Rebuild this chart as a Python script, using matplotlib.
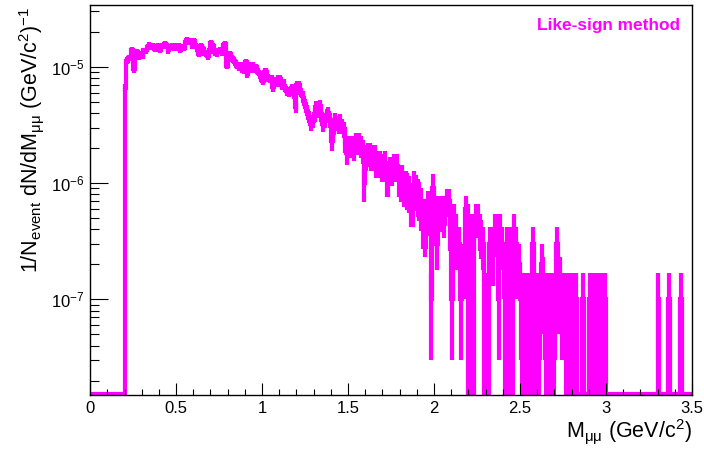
import matplotlib
matplotlib.use("Agg")
import matplotlib.pyplot as plt
import numpy as np
from matplotlib.ticker import MultipleLocator, LogLocator, FuncFormatter, NullFormatter

plt.rcParams["font.family"] = ["Liberation Sans", "DejaVu Sans"]
plt.rcParams["mathtext.fontset"] = "custom"
plt.rcParams["mathtext.rm"] = "Liberation Sans"
plt.rcParams["mathtext.it"] = "Liberation Sans:italic"
plt.rcParams["mathtext.bf"] = "Liberation Sans:bold"

MAGENTA = "#ff00ff"
BIN_W = 0.01
M_MAX = 3.5
FIRST = 0.20  # low edge of the first filled bin

# like-sign 1/N dN/dM, units of 1e-7 (GeV/c^2)^-1, bins 0.20 ... 2.99
dndm = [
    66, 113, 119, 121, 140, 95, 125, 134, 121, 129,
    125, 138, 138, 147, 154, 147, 152, 142, 147, 150,
    140, 150, 152, 157, 152, 138, 147, 152, 145, 150,
    145, 152, 140, 147, 145, 162, 171, 162, 168, 152,
    168, 152, 138, 129, 150, 142, 133, 129, 123, 138,
    160, 152, 133, 129, 138, 140, 133, 152, 157, 102,
    125, 129, 118, 113, 109, 102, 99, 102, 96, 93,
    109, 86, 102, 96, 102, 96, 99, 91, 86, 81,
    76, 90, 90, 81, 78, 78, 67, 76, 73, 78,
    79, 69, 73, 66, 62, 60, 62, 66, 58, 45,
    69, 69, 60, 56, 51, 45, 39, 37, 32, 34,
    39, 45, 42, 46, 39, 32, 35, 38, 40, 35,
    23, 27, 35, 33, 31, 34, 31, 29, 22, 18,
    21, 21, 21, 20, 22, 22, 22, 21, 19, 10,
    17, 18, 18, 17, 17, 17, 15, 15, 15, 14,
    14, 15, 11, 11, 13, 13, 14, 14, 14, 11,
    10, 11, 9.4, 9.4, 9, 8.5, 7, 7, 9.6, 8.8,
    8, 7.5, 6.5, 5, 4.5, 5, 6, 6, 1, 9,
    6, 3, 6, 5.5, 6, 5, 6, 7, 7, 4,
    1, 5, 4, 3, 3, 1, 2, 2, 6, 5,
    0, 4, 0, 4, 5, 5, 4, 3.5, 3, 0,
    1, 0, 3, 3, 2.4, 4, 4, 1, 4, 3,
    2, 0, 3, 0, 3, 0, 4, 3, 2, 2,
    1, 0, 1, 0, 1, 0, 1, 3, 0, 1,
    0, 1, 2, 1.4, 1, 0, 1, 0, 1, 0,
    1, 3, 1.4, 1.4, 1, 1, 1, 0, 1, 0,
    1, 0, 1, 0, 0, 0, 1, 0, 0, 0,
    1, 0, 1, 0, 1, 0, 1, 0, 1, 1,
]
dndm_err = [
    5.7, 7.5, 7.7, 7.8, 8.4, 6.9, 7.9, 8.2, 7.8, 8.0,
    7.9, 8.3, 8.3, 8.6, 8.8, 8.6, 8.7, 8.4, 8.6, 8.7,
    8.4, 8.7, 8.7, 8.9, 8.7, 8.3, 8.6, 8.7, 8.5, 8.7,
    8.5, 8.7, 8.4, 8.6, 8.5, 9.0, 9.2, 9.0, 9.2, 8.7,
    9.2, 8.7, 8.3, 8.0, 8.7, 8.4, 8.2, 8.0, 7.8, 8.3,
    8.9, 8.7, 8.2, 8.0, 8.3, 8.4, 8.2, 8.7, 8.9, 7.1,
    7.9, 8.0, 7.7, 7.5, 7.4, 7.1, 7.0, 7.1, 6.9, 6.8,
    7.4, 6.6, 7.1, 6.9, 7.1, 6.9, 7.0, 6.7, 6.6, 6.4,
    6.2, 6.7, 6.7, 6.4, 6.2, 6.2, 5.8, 6.2, 6.0, 6.2,
    6.3, 5.9, 6.0, 5.7, 5.6, 5.5, 5.6, 5.7, 5.4, 4.7,
    5.9, 5.9, 5.5, 5.3, 5.0, 4.7, 4.4, 4.3, 4.0, 4.1,
    5.3, 5.6, 5.5, 5.8, 5.3, 4.8, 5.0, 5.3, 5.4, 5.0,
    4.1, 4.4, 5.0, 4.9, 4.7, 4.9, 4.7, 4.6, 4.0, 3.6,
    4.6, 4.6, 4.6, 4.5, 4.7, 4.7, 4.7, 4.6, 4.4, 3.2,
    4.2, 4.3, 4.3, 4.2, 4.2, 4.2, 3.9, 3.9, 3.9, 3.8,
    3.8, 3.9, 3.4, 3.4, 3.6, 3.6, 3.8, 3.8, 3.8, 3.4,
    3.2, 3.4, 3.2, 3.2, 3.1, 3.0, 2.8, 2.8, 3.2, 3.0,
    2.9, 2.8, 2.6, 2.3, 2.2, 2.3, 2.5, 2.5, 0.7, 3.0,
    1.7, 1.2, 1.7, 1.7, 1.7, 1.6, 1.7, 1.9, 1.9, 1.4,
    0.7, 1.6, 1.4, 1.2, 1.2, 0.7, 1.0, 1.0, 1.7, 1.6,
    0, 1.4, 0, 1.4, 1.6, 1.6, 1.4, 1.3, 1.2, 0,
    0.7, 0, 1.2, 1.2, 1.1, 1.4, 1.4, 0.7, 1.4, 1.2,
    1.0, 0, 1.2, 0, 1.2, 0, 1.4, 1.2, 1.0, 1.0,
    0.7, 0, 0.7, 0, 0.7, 0, 0.7, 1.2, 0, 0.7,
    0, 0.7, 1.0, 0.9, 0.7, 0, 0.7, 0, 0.7, 0,
    0.7, 1.2, 0.9, 0.9, 0.7, 0.7, 0.7, 0, 0.7, 0,
    0.7, 0, 0.7, 0, 0, 0, 0.7, 0, 0, 0,
    0.7, 0, 0.7, 0, 0.7, 0, 0.7, 0, 0.7, 0.7,
]

# isolated entries above 3 GeV/c^2 (bin low edges)
tail_m = [3.30, 3.36, 3.43]
tail_val = [1, 1, 1]
tail_err = [0.7, 0.7, 0.7]

Y_MIN, Y_MAX = 1.5e-8, 3.4e-5
LW = 3.0

nbins = int(round(M_MAX / BIN_W))
edges = np.linspace(0.0, M_MAX, nbins + 1)
centers = 0.5 * (edges[:-1] + edges[1:])
vals = np.zeros(nbins)
errs = np.zeros(nbins)
i0 = int(round(FIRST / BIN_W))
vals[i0:i0 + len(dndm)] = dndm
errs[i0:i0 + len(dndm_err)] = dndm_err
for m, v, e in zip(tail_m, tail_val, tail_err):
    k = int(round(m / BIN_W))
    vals[k] = v
    errs[k] = e
vals *= 1e-7
errs *= 1e-7

fig = plt.figure(figsize=(7.04, 4.5), dpi=100)
ax = fig.add_axes([0.128, 0.122, 0.855, 0.867])
ax.set_yscale("log")

# empty bins sit on the frame, like ROOT does on a log axis
shown = np.where(vals > 0, vals, Y_MIN * 1.02)
st = ax.stairs(shown, edges, color=MAGENTA, lw=LW, baseline=None)
st.set_joinstyle("miter")

nz = vals > 0
lo = np.clip(vals - errs, Y_MIN * 0.5, None)
ax.vlines(centers[nz], lo[nz], (vals + errs)[nz], color=MAGENTA, lw=LW)

ax.set_xlim(0, M_MAX)
ax.set_ylim(Y_MIN, Y_MAX)
ax.xaxis.set_major_locator(MultipleLocator(0.5))
ax.xaxis.set_minor_locator(MultipleLocator(0.1))
ax.xaxis.set_major_formatter(FuncFormatter(lambda v, _: f"{v:g}"))
ax.yaxis.set_major_locator(LogLocator(base=10))
ax.yaxis.set_minor_locator(LogLocator(base=10, subs=np.arange(2, 10)))
ax.yaxis.set_major_formatter(
    FuncFormatter(lambda v, _: rf"$10^{{{int(round(np.log10(v)))}}}$"))
ax.yaxis.set_minor_formatter(NullFormatter())

ax.tick_params(which="both", direction="in", top=False, right=False,
               width=0.8, colors="black")
ax.tick_params(axis="x", which="major", length=8.4, pad=4, labelsize=12)
ax.tick_params(axis="x", which="minor", length=4.2)
ax.tick_params(axis="y", which="major", length=13, pad=4, labelsize=12)
ax.tick_params(axis="y", which="minor", length=6.5)
for sp in ax.spines.values():
    sp.set_linewidth(1.0)

fig.text(0.983, 0.008, r"M$_{\mathrm{μμ}}$ (GeV/c$^{2}$)", ha="right",
         va="bottom", fontsize=15.5)
fig.text(0.045, 0.985,
         r"1/N$_{\mathrm{event}}$ dN/dM$_{\mathrm{μμ}}$ (GeV/c$^{2}$)$^{-1}$",
         rotation=90, ha="center", va="top", fontsize=15.5)
fig.text(0.966, 0.944, "Like-sign method", color=MAGENTA, fontweight="bold",
         ha="right", va="center", fontsize=12.4)

fig.savefig("out.png", dpi=100)
